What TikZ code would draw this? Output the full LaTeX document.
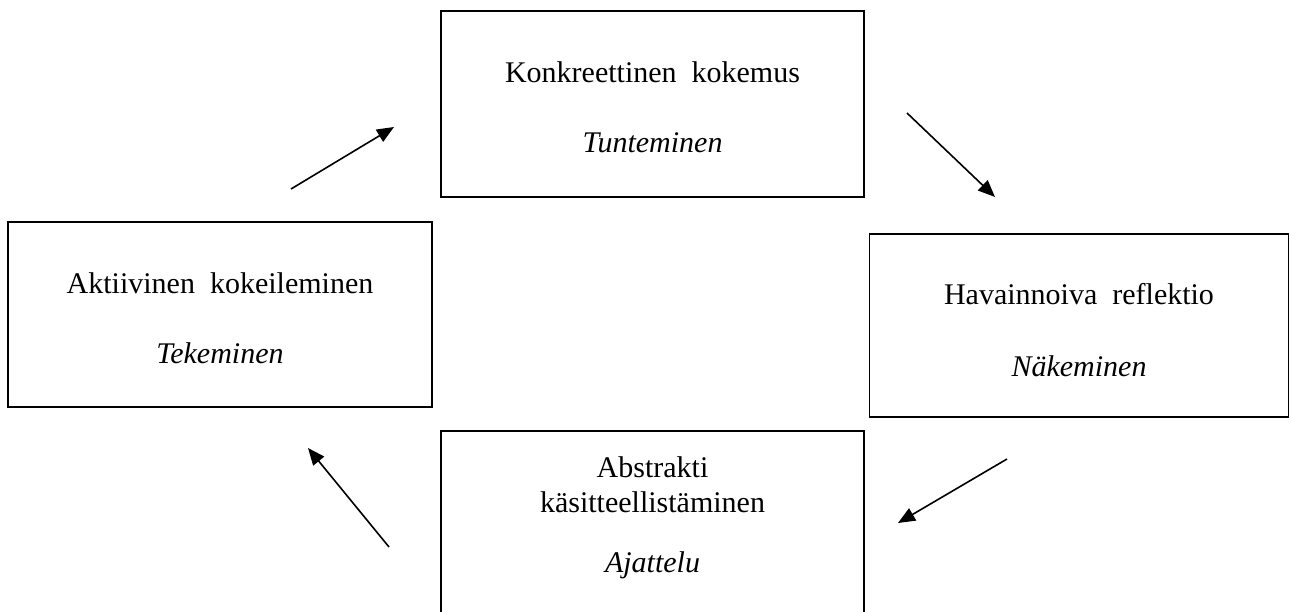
\documentclass[tikz,border=0pt]{standalone}
\usepackage{fontspec}
\setmainfont{Liberation Serif}
\usetikzlibrary{arrows.meta, positioning}

\begin{document}
\begin{tikzpicture}[
    x=1pt, y=-1pt,
    font=\fontsize{30}{35}\selectfont,
    phase/.style={draw, line width=1.3pt, minimum width=423pt, minimum height=186pt, inner sep=0pt},
    title/.style={anchor=base, inner sep=0pt},
    mode/.style={anchor=base, inner sep=0pt, font=\fontsize{30}{35}\selectfont\itshape},
    arrow/.style={-{Triangle[length=17pt, width=14pt]}, line width=1.6pt}
]

\clip (0,0) rectangle (1291,612);

% boxes
\node[phase] (kokemus) at (652.5,104) {};
\node[phase, minimum width=424pt, minimum height=185pt] (kokeilu) at (220,314.5) {};
\node[phase, minimum width=419pt, minimum height=183pt] (reflektio) at (1079,325.5) {};
\node[phase] (ajattelu) at (652.5,524) {};

% texts
\node[title] (kokemus-a) at ([yshift=-72pt]kokemus.north) {Konkreettinen\ \ kokemus};
\node[mode] (kokemus-b) at ([yshift=-142pt]kokemus.north) {Tunteminen};
\node[title] (kokeilu-a) at ([yshift=-72pt]kokeilu.north) {Aktiivinen\ \ kokeileminen};
\node[mode] (kokeilu-b) at ([yshift=-142pt]kokeilu.north) {Tekeminen};
\node[title] (reflektio-a) at ([yshift=-71pt]reflektio.north) {Havainnoiva\ \ reflektio};
\node[mode] (reflektio-b) at ([yshift=-143pt]reflektio.north) {Näkeminen};
\node[title] (ajattelu-a) at ([yshift=-47pt]ajattelu.north) {Abstrakti};
\node[title] (ajattelu-b) at ([yshift=-82pt]ajattelu.north) {käsitteellistäminen};
\node[mode] (ajattelu-c) at ([yshift=-142pt]ajattelu.north) {Ajattelu};

% arrow ends
\coordinate (a1) at (291,189);
\coordinate (b1) at (394,127);
\coordinate (a2) at (907,113);
\coordinate (b2) at (995,197);
\coordinate (a3) at (1007,459);
\coordinate (b3) at (898,523);
\coordinate (a4) at (389,547);
\coordinate (b4) at (308,448);

\draw[arrow] (a1) -- (b1);
\draw[arrow] (a2) -- (b2);
\draw[arrow] (a3) -- (b3);
\draw[arrow] (a4) -- (b4);

\end{tikzpicture}
\end{document}
